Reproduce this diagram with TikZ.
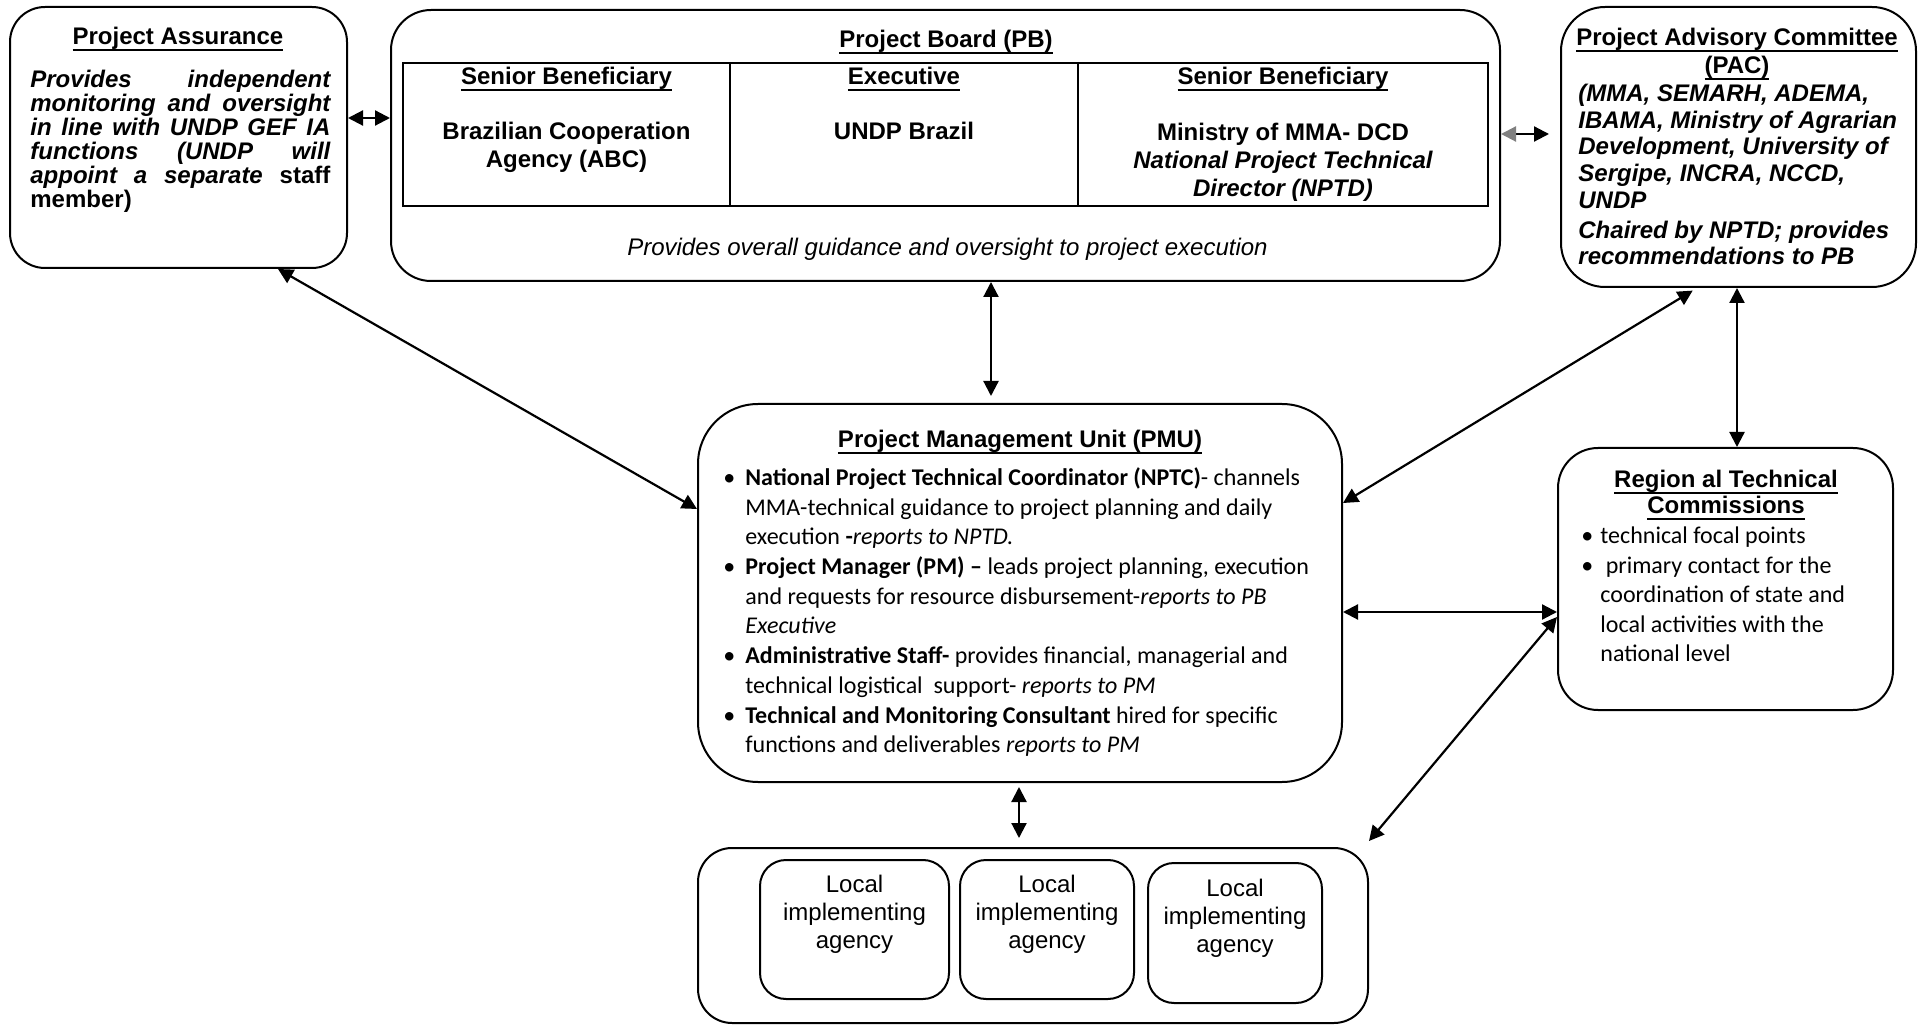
\documentclass[tikz,border=0pt]{standalone}
\usepackage{fontspec}
\setmainfont{Liberation Sans}
\newfontfamily\calib{Carlito}
\usetikzlibrary{arrows.meta,fit}
\newsavebox\myulbox
\newcommand\myul[1]{\sbox\myulbox{#1}\rlap{\vrule height -2.2pt depth 3.1pt width \wd\myulbox}\usebox\myulbox}
\newcommand\pmubul{\makebox[11pt][l]{\textbullet}}
\newcommand\pmuind{\hspace*{11pt}}
\newcommand\rtcbul{\makebox[9.5pt][l]{\textbullet}}
\newcommand\rtcind{\hspace*{9.5pt}}
\begin{document}
\begin{tikzpicture}[x=0.5pt,y=-0.5pt,
  box/.style={draw, line width=1pt, inner sep=0pt},
  arr/.style={{Triangle[length=7.5pt,width=7.5pt]}-{Triangle[length=7.5pt,width=7.5pt]}, line width=1.1pt},
  txt/.style={inner sep=0pt, font=\fontsize{12}{14}\selectfont}]
\useasboundingbox (0,0) rectangle (1923,1026);

% boxes
\node[box, rounded corners=17.5pt, fit={(10,7)(347,268)}] (pa) {};
\node[box, rounded corners=20pt, fit={(391,10)(1500,281)}] (pb) {};
\node[box, fit={(403,63)(1488,206)}] (pbt) {};
\draw[line width=1pt] (pbt.north -| 730,0) -- (pbt.south -| 730,0);
\draw[line width=1pt] (pbt.north -| 1078,0) -- (pbt.south -| 1078,0);
\node[box, rounded corners=22pt, fit={(1561,7)(1916,287)}] (pac) {};
\node[box, rounded corners=30pt, fit={(698,404)(1342,782)}] (pmu) {};
\node[box, rounded corners=20pt, fit={(1558,448)(1893,710)}] (rtc) {};
\node[box, rounded corners=17pt, fit={(698,848)(1368,1023)}] (loc) {};
\node[box, rounded corners=13pt, fit={(760,860)(949,999)}] (la) {};
\node[box, rounded corners=13pt, fit={(960,860)(1134,999)}] (lb) {};
\node[box, rounded corners=13pt, fit={(1148,863)(1322,1003)}] (lc) {};

% Project Assurance
\node[txt, anchor=north] (pat) at (178,27) {\bfseries\myul{Project Assurance}};
\node[txt, anchor=north west, align=left, font=\fontsize{12}{12}\selectfont\bfseries] (pab) at (30,70) {%
\makebox[150pt][s]{\itshape Provides independent}\\
\makebox[150pt][s]{\itshape monitoring and oversight}\\
\makebox[150pt][s]{\itshape in line with UNDP GEF IA}\\
\makebox[150pt][s]{\itshape functions (UNDP will}\\
\makebox[150pt][s]{\itshape appoint a separate\upshape\ staff}\\
member)};

% Project Board
\node[txt, anchor=north] (pbtitle) at (946,30) {\bfseries\myul{Project Board (PB)}};
\node[txt, anchor=north] (h1) at (566.5,67) {\bfseries\myul{Senior Beneficiary}};
\node[txt, anchor=north] (h2) at (904,67) {\bfseries\myul{Executive}};
\node[txt, anchor=north] (h3) at (1283,67) {\bfseries\myul{Senior Beneficiary}};
\node[txt, anchor=north, align=center, font=\fontsize{12}{14}\selectfont\bfseries] (c1) at (566.5,122) {Brazilian Cooperation\\Agency (ABC)};
\node[txt, anchor=north, align=center, font=\fontsize{12}{14}\selectfont\bfseries] (c2) at (904,122) {UNDP Brazil};
\node[txt, anchor=north, align=center, font=\fontsize{12}{14}\selectfont\bfseries] (c3) at (1283,123) {Ministry of MMA- DCD\\\itshape National Project Technical\\\itshape Director (NPTD)};
\node[txt, anchor=north] (pbd) at (947.5,238) {\itshape Provides overall guidance and oversight to project execution};

% Project Advisory Committee
\node[txt, anchor=north, align=center, font=\fontsize{12}{14}\selectfont\bfseries] (pact) at (1737,28) {\myul{Project Advisory Committee}\\\myul{(PAC)}};
\node[txt, anchor=north west, align=left, font=\fontsize{12}{13.3}\selectfont\bfseries\itshape] (pacb) at (1578,84) {%
(MMA, SEMARH, ADEMA,\\
IBAMA, Ministry of Agrarian\\
Development, University of\\
Sergipe, INCRA, NCCD,\\
UNDP\\[1.7pt]
Chaired by NPTD; provides\\
recommendations to PB};

% PMU
\node[txt, anchor=north] (pmut) at (1020,430) {\bfseries\myul{Project Management Unit (PMU)}};
\node[txt, anchor=north west, align=left, font=\calib\fontsize{12}{14.65}\selectfont] (pmub) at (723,467.5) {%
\pmubul\textbf{National Project Technical Coordinator (NPTC)}- channels\\
\pmuind MMA-technical guidance to project planning and daily\\
\pmuind execution \textbf{-}\textit{reports to NPTD.}\\[0.55pt]
\pmubul\textbf{Project Manager (PM) –} leads project planning, execution\\
\pmuind and requests for resource disbursement-\textit{reports to PB}\\
\pmuind\textit{Executive}\\[0.55pt]
\pmubul\textbf{Administrative Staff-} provides financial, managerial and\\
\pmuind technical logistical\ \ support- \textit{reports to PM}\\[0.55pt]
\pmubul\textbf{Technical and Monitoring Consultant} hired for specific\\
\pmuind functions and deliverables \textit{reports to PM}};

% Regional Technical Commissions
\node[txt, anchor=north, align=center, font=\fontsize{12}{13}\selectfont\bfseries] (rtct) at (1726,470) {\myul{Region al Technical}\\\myul{Commissions}};
\node[txt, anchor=north west, align=left, font=\calib\fontsize{12}{14.75}\selectfont] (rtcb) at (1581,526.5) {%
\rtcbul technical focal points\\
\rtcbul\ primary contact for the\\
\rtcind coordination of state and\\
\rtcind local activities with the\\
\rtcind national level};

% Local implementing agencies
\node[txt, anchor=north, align=center] (lat) at (854.5,875) {Local\\implementing\\agency};
\node[txt, anchor=north, align=center] (lbt) at (1047,875) {Local\\implementing\\agency};
\node[txt, anchor=north, align=center] (lct) at (1235,879) {Local\\implementing\\agency};

% connectors
\coordinate (pbpac) at (1549,134);
\draw[arr] (pa.east |- 0,118) -- (pb.west |- 0,118);
\draw[line width=1.1pt, arrows={{Triangle[length=7.5pt,width=7.5pt,color=gray]}-{Triangle[length=7.5pt,width=7.5pt]}}] (pb.east |- 0,134) -- (pbpac);
\draw[arr] (pa.south -| 278,0) -- (pmu.west |- 0,509);
\draw[arr, shorten >=3.5pt] (pb.south -| 991,0) -- (pmu.north -| 991,0);
\draw[arr, shorten <=2.5pt] (pac.south -| 1697,0) -- (pmu.east |- 0,503);
\draw[arr] (pac.south -| 1737,0) -- (rtc.north -| 1737,0);
\draw[arr] (pmu.east |- 0,612) -- (rtc.west |- 0,612);
\draw[arr] (rtc.west |- 0,617) -- ([yshift=3pt]loc.north east);
\draw[arr, shorten <=2pt, shorten >=4.5pt] (pmu.south -| 1019,0) -- (loc.north -| 1019,0);
\end{tikzpicture}
\end{document}
